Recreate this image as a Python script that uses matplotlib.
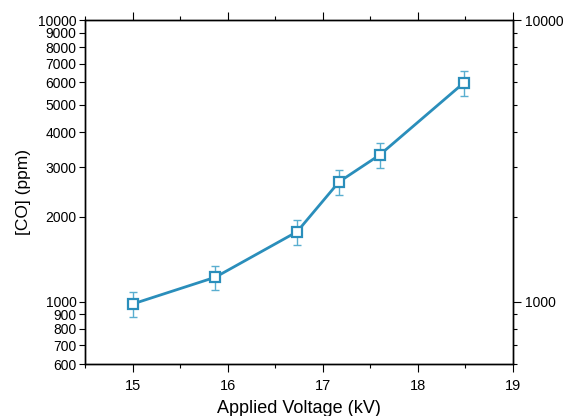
import matplotlib
matplotlib.use("Agg")
import matplotlib.pyplot as plt
from matplotlib.ticker import FixedLocator, FixedFormatter, NullFormatter, MultipleLocator

# values
voltage = [15.0, 15.87, 16.73, 17.17, 17.60, 18.48]
co_ppm = [980, 1220, 1770, 2660, 3320, 5970]
co_err = [98, 122, 177, 266, 332, 597]

left_ticks = [600, 700, 800, 900, 1000, 2000, 3000, 4000, 5000, 6000, 7000, 8000, 9000, 10000]
right_ticks = [1000, 10000]
x_ticks = [15, 16, 17, 18, 19]

line_color = '#2a8ebb'
err_color = '#5aaed0'

plt.rcParams['font.family'] = ['Liberation Sans', 'DejaVu Sans']

fig = plt.figure(figsize=(5.64, 4.16), dpi=100)
ax = fig.add_axes([85 / 564, 1 - 364 / 416, (513 - 85) / 564, (364 - 20) / 416])

ax.errorbar(voltage, co_ppm, yerr=co_err, fmt='none', ecolor=err_color,
            elinewidth=1.0, capsize=3, capthick=1.0, zorder=2)
ax.plot(voltage, co_ppm, color=line_color, linewidth=2, marker='s', markersize=7,
        markerfacecolor='white', markeredgecolor=line_color, markeredgewidth=1.6, zorder=3)

ax.set_yscale('log')
ax.set_xlim(14.5, 19)
ax.set_ylim(600, 10000)

ax.yaxis.set_major_locator(FixedLocator(left_ticks))
ax.yaxis.set_major_formatter(FixedFormatter([str(t) for t in left_ticks]))
ax.yaxis.set_minor_locator(FixedLocator([]))
ax.yaxis.set_minor_formatter(NullFormatter())
ax.tick_params(axis='y', which='major', direction='out', length=4, width=0.8,
               labelsize=10, pad=2)

ax.xaxis.set_major_locator(FixedLocator(x_ticks))
ax.xaxis.set_minor_locator(MultipleLocator(0.5))
ax.tick_params(axis='x', which='major', direction='out', length=6, width=0.8,
               labelsize=10.5, top=True, pad=5)
ax.tick_params(axis='x', which='minor', direction='out', length=3, width=0.8, top=True)

# right axis with decade labels only
ax2 = ax.twinx()
ax2.set_yscale('log')
ax2.set_ylim(600, 10000)
ax2.yaxis.set_major_locator(FixedLocator(right_ticks))
ax2.yaxis.set_major_formatter(FixedFormatter([str(t) for t in right_ticks]))
ax2.yaxis.set_minor_locator(FixedLocator([600, 700, 800, 900, 2000, 3000, 4000, 5000,
                                          6000, 7000, 8000, 9000]))
ax2.yaxis.set_minor_formatter(NullFormatter())
ax2.tick_params(axis='y', which='major', direction='out', length=6, width=0.8,
                labelsize=10, pad=3)
ax2.tick_params(axis='y', which='minor', direction='out', length=3, width=0.8)

for a in (ax, ax2):
    for s in a.spines.values():
        s.set_linewidth(1.0)

ax.set_xlabel('Applied Voltage (kV)', fontsize=13, labelpad=5)
ax.set_ylabel('[CO] (ppm)', fontsize=12.5, labelpad=5)

fig.savefig('out.png', dpi=100)
